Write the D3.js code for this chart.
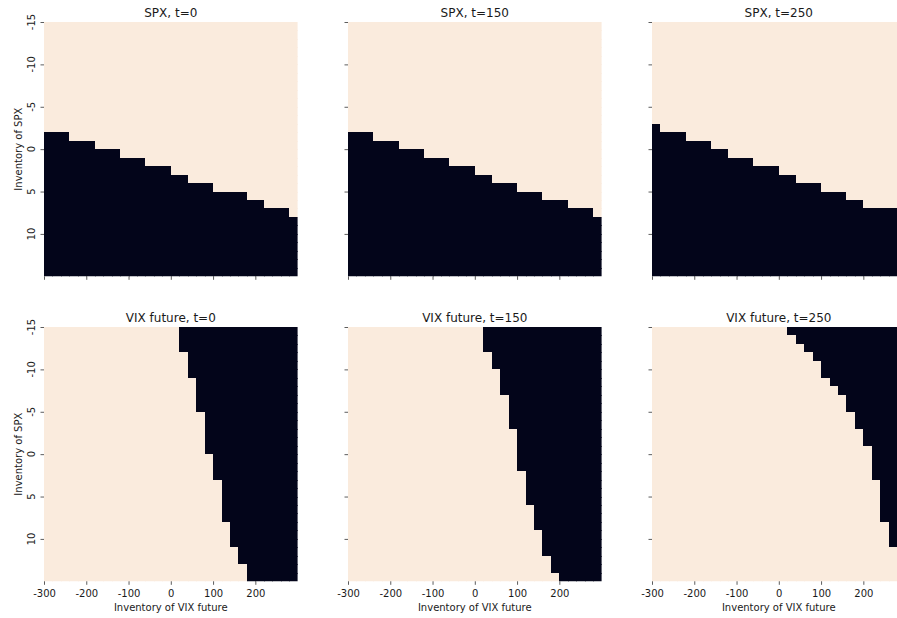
<!DOCTYPE html>
<html>
<head>
<meta charset="utf-8">
<script src="https://cdn.jsdelivr.net/npm/d3@7"></script>
<style>
  html, body { margin: 0; padding: 0; background: #ffffff; }
  svg { display: block; font-family: "DejaVu Sans", sans-serif; }
</style>
</head>
<body>
<svg id="chart" width="897" height="618"></svg>
<script>
// ---- categories ----
const vixInventory = [-300,-280,-260,-240,-220,-200,-180,-160,-140,-120,-100,-80,-60,-40,-20,0,20,40,60,80,100,120,140,160,180,200,220,240,260,280];
const spxInventory = [-15,-14,-13,-12,-11,-10,-9,-8,-7,-6,-5,-4,-3,-2,-1,0,1,2,3,4,5,6,7,8,9,10,11,12,13,14];

// ---- tick labels ----
const xTickValues = [-300,-200,-100,0,100,200];
const yTickValues = [-15,-10,-5,0,5,10];

// ---- SPX panels: for each VIX-inventory column, first SPX inventory in the dark region ----
const spxT0   = [-2,-2,-2,-1,-1,-1,0,0,0,1,1,1,2,2,2,3,3,4,4,4,5,5,5,5,6,6,7,7,7,8];
const spxT150 = [-2,-2,-2,-1,-1,-1,0,0,0,1,1,1,2,2,2,3,3,4,4,4,5,5,5,6,6,6,7,7,7,8];
const spxT250 = [-3,-2,-2,-2,-1,-1,-1,0,0,1,1,1,2,2,2,3,3,4,4,4,5,5,5,6,6,7,7,7,7,7];

// ---- VIX panels: for each SPX-inventory row, first VIX inventory in the dark region ----
const vixT0   = [20,20,20,40,40,40,60,60,60,60,80,80,80,80,80,100,100,100,120,120,120,120,120,140,140,140,160,160,180,180];
const vixT150 = [20,20,20,40,40,60,60,60,80,80,80,80,100,100,100,100,100,120,120,120,120,140,140,140,160,160,160,180,180,200];
const vixT250 = [20,40,60,80,100,100,120,140,160,160,180,180,200,200,220,220,220,220,240,240,240,240,240,260,260,260,280,280,280,280];

const panelTitles = ["SPX, t=0","SPX, t=150","SPX, t=250","VIX future, t=0","VIX future, t=150","VIX future, t=250"];

// ---- layout ----
const colLeft = [44, 348, 652];
const rowTop = [22, 327];
const panelW = 253.6, panelH = 254.3;
const darkColor = "#03051a", lightColor = "#faebdd";
const textColor = "#1a1a1a";

const svg = d3.select("#chart");
const color = d3.scaleOrdinal().domain([0, 1]).range([darkColor, lightColor]);

const panels = [
  {type: "spx", bound: spxT0, title: panelTitles[0], r: 0, c: 0},
  {type: "spx", bound: spxT150, title: panelTitles[1], r: 0, c: 1},
  {type: "spx", bound: spxT250, title: panelTitles[2], r: 0, c: 2},
  {type: "vix", bound: vixT0, title: panelTitles[3], r: 1, c: 0},
  {type: "vix", bound: vixT150, title: panelTitles[4], r: 1, c: 1},
  {type: "vix", bound: vixT250, title: panelTitles[5], r: 1, c: 2}
];

panels.forEach(p => {
  const left = colLeft[p.c], top = rowTop[p.r];
  const xb = d3.scaleBand().domain(vixInventory).range([left, left + panelW]);
  const yb = d3.scaleBand().domain(spxInventory).range([top, top + panelH]);
  const xl = d3.scaleLinear().domain([-300, 300]).range([left, left + panelW]);
  const yl = d3.scaleLinear().domain([-15, 15]).range([top, top + panelH]);

  const cells = [];
  vixInventory.forEach((xv, i) => {
    spxInventory.forEach((yv, j) => {
      let v;
      if (p.type === "spx") v = (yv >= p.bound[i]) ? 0 : 1;
      else v = (xv >= p.bound[j]) ? 0 : 1;
      cells.push({xv, yv, v, i, j});
    });
  });

  const clipId = "clip" + p.r + p.c;
  svg.append("clipPath").attr("id", clipId).append("rect")
    .attr("x", left).attr("y", top).attr("width", panelW).attr("height", panelH);

  const g = svg.append("g").attr("clip-path", `url(#${clipId})`);
  g.selectAll("rect").data(cells).join("rect")
    .attr("x", d => Math.round(xb(d.xv)))
    .attr("y", d => Math.round(yb(d.yv)))
    .attr("width", d => Math.round(xb(d.xv) + xb.bandwidth()) - Math.round(xb(d.xv)) + 1)
    .attr("height", d => Math.round(yb(d.yv) + yb.bandwidth()) - Math.round(yb(d.yv)) + 1)
    .attr("shape-rendering", "crispEdges")
    .attr("fill", d => color(d.v));

  // x axis ticks
  const xAxis = svg.append("g").attr("transform", `translate(0,${top + panelH})`)
    .call(d3.axisBottom(xl).tickValues(xTickValues).tickSize(3.5).tickPadding(3.5));
  xAxis.select(".domain").remove();
  xAxis.selectAll("line").attr("stroke", "#333").attr("stroke-width", 0.8);
  xAxis.selectAll("text").attr("font-size", 10).attr("fill", textColor)
    .attr("font-family", "DejaVu Sans").attr("dy", null).attr("y", 15.8)
    .text(d => p.r === 1 ? String(d) : "");

  // y axis ticks
  const yAxis = svg.append("g").attr("transform", `translate(${left},0)`)
    .call(d3.axisLeft(yl).tickValues(yTickValues).tickSize(3.5));
  yAxis.select(".domain").remove();
  yAxis.selectAll("line").attr("stroke", "#333").attr("stroke-width", 0.8);
  yAxis.selectAll("text").remove();
  if (p.c === 0) {
    svg.append("g").selectAll("text").data(yTickValues).join("text")
      .attr("transform", d => `translate(${left - 9},${yl(d)}) rotate(-90)`)
      .attr("text-anchor", "middle")
      .attr("font-size", 10).attr("fill", textColor)
      .text(d => String(d));
    svg.append("text")
      .attr("transform", `translate(21.5,${top + panelH / 2}) rotate(-90)`)
      .attr("text-anchor", "middle")
      .attr("font-size", 10).attr("fill", textColor)
      .text("Inventory of SPX");
  }
  if (p.r === 1) {
    svg.append("text")
      .attr("x", left + panelW / 2).attr("y", 610.5)
      .attr("text-anchor", "middle")
      .attr("font-size", 10).attr("fill", textColor)
      .text("Inventory of VIX future");
  }
  svg.append("text")
    .attr("x", left + panelW / 2).attr("y", top - 5.5)
    .attr("text-anchor", "middle")
    .attr("font-size", 12).attr("fill", textColor)
    .text(p.title);
});
</script>
</body>
</html>
